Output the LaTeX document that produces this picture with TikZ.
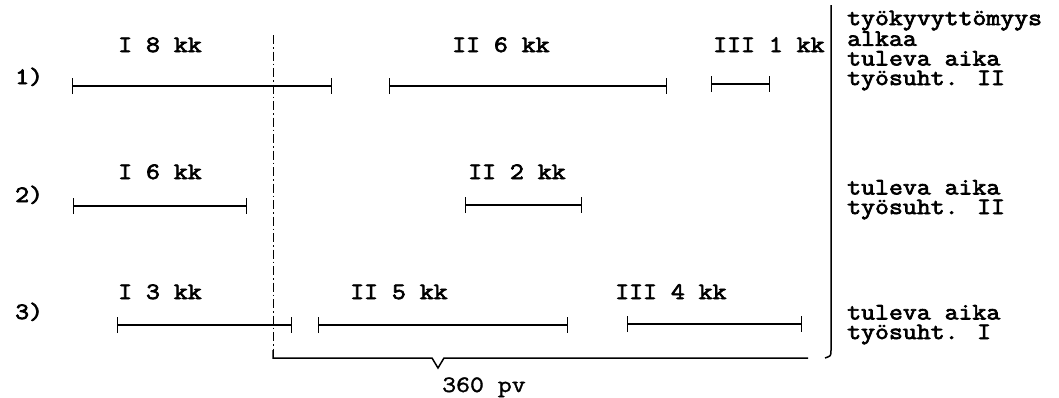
\documentclass[tikz,border=0pt]{standalone}
\usepackage{fontspec}
\newfontfamily\twb{Latin Modern Mono}[FakeStretch=1.15,FakeBold=3]
\newfontfamily\twl{Latin Modern Mono}[FakeStretch=1.15,FakeBold=1.5]
\usetikzlibrary{arrows.meta}
\begin{document}
\begin{tikzpicture}[x=1pt,y=-1pt,
  txt/.style={font=\twb\fontsize{23.5}{20}\selectfont, anchor=base west, inner sep=0pt},
  block/.style={font=\twb\fontsize{23.5}{19.6}\selectfont, anchor=base west, inner sep=0pt, align=left},
  light/.style={font=\twl\fontsize{23.5}{20}\selectfont, anchor=base west, inner sep=0pt},
  seg/.style={line width=2.6pt, {Bar[width=16pt,line width=1.3pt]}-{Bar[width=16pt,line width=1.3pt]}},
  dashdot/.style={line width=1pt, dash pattern=on 9pt off 3pt on 1.5pt off 3pt},
  brace/.style={line width=1.5pt}]
\useasboundingbox (0,0) rectangle (1059,397);
% row labels
\node[txt] (r1) at (15,84) {1)};
\node[txt] (r2) at (15,202) {2)};
\node[txt] (r3) at (15,319) {3)};
% row 1
\node[txt] (l11) at (118,52) {I 8 kk};
\node[txt] (l12) at (452,52) {II 6 kk};
\node[txt] (l13) at (713,52) {III 1 kk};
\coordinate (a11) at (72,86); \coordinate (b11) at (332,86);
\coordinate (a12) at (389,86); \coordinate (b12) at (667,86);
\coordinate (a13) at (711,84); \coordinate (b13) at (770,84);
\draw[seg] (a11) -- (b11);
\draw[seg] (a12) -- (b12);
\draw[seg] (a13) -- (b13);
% row 2
\node[txt] (l21) at (118,179) {I 6 kk};
\node[txt] (l22) at (468,179) {II 2 kk};
\coordinate (a21) at (73,206); \coordinate (b21) at (247,206);
\coordinate (a22) at (465,205); \coordinate (b22) at (582,205);
\draw[seg] (a21) -- (b21);
\draw[seg] (a22) -- (b22);
% row 3
\node[txt] (l31) at (118,299) {I 3 kk};
\node[txt] (l32) at (350,299) {II 5 kk};
\node[txt] (l33) at (615,299) {III 4 kk};
\coordinate (a31) at (117,325); \coordinate (b31) at (292,325);
\coordinate (a32) at (318,325); \coordinate (b32) at (568,325);
\coordinate (a33) at (627,324); \coordinate (b33) at (802,324);
\draw[seg] (a31) -- (b31);
\draw[seg] (a32) -- (b32);
\draw[seg] (a33) -- (b33);
% vertical dash-dot line and bottom brace
\coordinate (vt) at (273,35);
\coordinate (vb) at (273,350);
\coordinate (bl) at (273,358);
\coordinate (n1) at (432,358);
\coordinate (n2) at (438,368);
\coordinate (n3) at (444,358);
\coordinate (br) at (808,358);
\draw[dashdot] (vt) -- (vb);
\draw[brace] (vb) -- (bl) -- (n1) -- (n2) -- (n3) -- (br);
\node[light] (pv) at (442,392) {360 pv};
% right brace
\coordinate (rt) at (831,5);
\coordinate (rb) at (831,350);
\coordinate (rc) at (825,358);
\draw[brace] (rt) -- (rb) .. controls (831,356) .. (rc);
% right texts (anchored at the baseline of the last line)
\node[block] (t1) at (847,85) {työkyvyttömyys\\alkaa\\tuleva aika\\työsuht. II};
\node[block] (t2) at (847,214) {tuleva aika\\työsuht. II};
\node[block] (t3) at (847,339) {tuleva aika\\työsuht. I};
\end{tikzpicture}
\end{document}
